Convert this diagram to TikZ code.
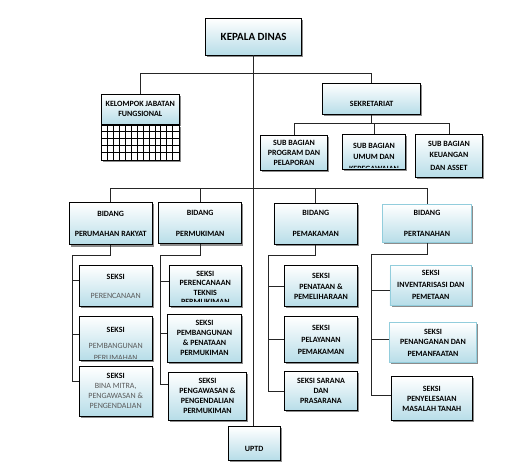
\documentclass[tikz,border=0pt]{standalone}
\usepackage{fontspec}
\setmainfont{Carlito}
\usepackage{xcolor}
\usetikzlibrary{shadows}

\definecolor{boxblue}{RGB}{183,221,232}
\definecolor{paleedge}{RGB}{146,205,220}
\definecolor{txtgray}{RGB}{89,89,89}
\newcommand{\greytext}[1]{{\color{txtgray}\mdseries #1}}

\begin{document}
\begin{tikzpicture}[x=1pt,y=-1pt,
    unit/.style={draw=black, line width=0.9pt, top color=white, bottom color=boxblue,
        drop shadow={shadow xshift=1.6pt, shadow yshift=-1.6pt, fill=black!45, opacity=1},
        align=center, inner sep=0pt, font=\fontsize{8}{10}\selectfont\bfseries},
    pale/.style={unit, draw=paleedge},
    link/.style={draw=black!85, line width=0.8pt},
    gridline/.style={draw=black, line width=0.5pt},
    cut/.style={inner sep=0pt, font=\fontsize{8}{10}\selectfont\bfseries}]
        \path[use as bounding box, fill=white] (0,0) rectangle (527,470);

        % Head and staff
        \node[unit, minimum width=96pt, minimum height=36.7pt, font=\fontsize{11}{13}\selectfont\bfseries] (kepala) at (253.7,36.7) {KEPALA DINAS};
        \node[unit, minimum width=77.3pt, minimum height=30pt] (kelompok) at (140.3,109.3) {KELOMPOK JABATAN\\FUNGSIONAL};
        \node[draw=black, line width=0.9pt, fill=white, inner sep=0pt, minimum width=77.3pt, minimum height=35pt, anchor=north,
            drop shadow={shadow xshift=1.6pt, shadow yshift=-1.6pt, fill=black!45, opacity=1}] (kelompokgrid) at (kelompok.south) {};
        \foreach \i in {1,...,12}
            \draw[gridline] ([xshift=\i*5.95pt]kelompokgrid.north west) -- ([xshift=\i*5.95pt]kelompokgrid.south west);
        \foreach \j in {1,...,4}
            \draw[gridline] ([yshift=-\j*7pt]kelompokgrid.north west) -- ([yshift=-\j*7pt]kelompokgrid.north east);

        % Secretariat
        \node[unit, minimum width=98pt, minimum height=31pt] (sekretariat) at (371.7,98.8) {\mbox{}\\[6pt]SEKRETARIAT};
        \node[unit, minimum width=66.6pt, minimum height=35.4pt] (subprogram) at (294,153) {SUB BAGIAN\\PROGRAM DAN\\PELAPORAN};
        \node[unit, minimum width=62.6pt, minimum height=35pt] (subumum) at (374,151.8) {SUB BAGIAN\\[1pt]UMUM DAN};
        \node[unit, minimum width=66.6pt, minimum height=43pt] (subkeuangan) at (449,155.8) {SUB BAGIAN\\[1.5pt]KEUANGAN\\[2.5pt]DAN ASSET};

        % Bidang
        \node[unit, minimum width=83.3pt, minimum height=42.3pt] (perumahan) at (110.7,223.8) {BIDANG\\[10.5pt]PERUMAHAN RAKYAT};
        \node[unit, minimum width=83pt, minimum height=41.3pt] (permukiman) at (200.2,223.3) {BIDANG\\[10.5pt]PERMUKIMAN};
        \node[unit, minimum width=83.7pt, minimum height=41pt] (pemakaman) at (315.8,223.8) {BIDANG\\[11pt]PEMAKAMAN};
        \node[pale, minimum width=89.4pt, minimum height=38.4pt] (pertanahan) at (427,223.5) {BIDANG\\[11pt]PERTANAHAN};

        % Seksi
        \node[unit, minimum width=73.3pt, minimum height=41pt] (seksiplan) at (115.7,286.2) {SEKSI\\[9pt]\greytext{PERENCANAAN}};
        \node[unit, minimum width=73.3pt, minimum height=44pt] (seksibangun) at (115.7,338) {SEKSI\\[6.7pt]\greytext{PEMBANGUNAN}};
        \node[unit, minimum width=73.3pt, minimum height=49.3pt] (seksibina) at (115.7,391.3) {SEKSI\\\greytext{BINA MITRA,}\\\greytext{PENGAWASAN \&}\\\greytext{PENGENDALIAN}};
        \node[unit, minimum width=72.7pt, minimum height=41pt, font=\fontsize{8}{9.5}\selectfont\bfseries] (seksiteknis) at (205.3,286.2) {SEKSI\\PERENCANAAN\\TEKNIS\\[-3pt]\mbox{}};
        \node[unit, minimum width=74.4pt, minimum height=48pt] (seksitata) at (204.5,338.3) {SEKSI\\PEMBANGUNAN\\\& PENATAAN\\PERMUKIMAN};
        \node[unit, minimum width=78.4pt, minimum height=47.3pt] (seksiawas) at (207.5,396.3) {SEKSI\\PENGAWASAN \&\\PENGENDALIAN\\PERMUKIMAN};
        \node[unit, minimum width=73.4pt, minimum height=41pt] (seksimakam) at (321,286.2) {SEKSI\\[1.5pt]PENATAAN \&\\PEMELIHARAAN};
        \node[unit, minimum width=73.4pt, minimum height=46pt] (seksilayan) at (321,339.7) {SEKSI\\[1.5pt]PELAYANAN\\[2pt]PEMAKAMAN};
        \node[unit, minimum width=73.4pt, minimum height=39pt] (seksisarana) at (321,391.2) {SEKSI SARANA\\DAN\\PRASARANA};
        \node[pale, minimum width=81.7pt, minimum height=40pt] (seksipeta) at (430.8,285) {SEKSI\\[1.5pt]INVENTARISASI DAN\\[2pt]PEMETAAN};
        \node[pale, minimum width=87.4pt, minimum height=40pt] (seksimanfaat) at (433,342.7) {SEKSI\\PENANGANAN DAN\\[1.5pt]PEMANFAATAN};
        \node[unit, minimum width=81.7pt, minimum height=44pt] (seksitanah) at (431.8,398.7) {SEKSI\\PENYELESAIAN\\MASALAH TANAH};
        \node[unit, minimum width=51.7pt, minimum height=33.3pt] (uptd) at (254.2,443.3) {\mbox{}\\[6pt]UPTD};

        % text lines cut off at the box bottom
        \begin{scope}
            \clip (subumum.north west) rectangle ([yshift=2pt]subumum.south east);
            \node[cut] (umumsisa) at (374,169) {KEPEGAWAIAN};
        \end{scope}
        \begin{scope}
            \clip (seksibangun.north west) rectangle ([yshift=1.7pt]seksibangun.south east);
            \node[cut, text=txtgray, font=\fontsize{8}{10}\selectfont] (bangunsisa) at (115.7,357.5) {PERUMAHAN};
        \end{scope}
        \begin{scope}
            \clip (seksiteknis.north west) rectangle ([yshift=5.7pt]seksiteknis.south east);
            \node[cut] (teknissisa) at (205.3,302) {PERMUKIMAN};
        \end{scope}

        % Connectors
        \coordinate (staffjoin) at (253.7,73.3);
        \coordinate (subjoin) at (371.7,123.3);
        \coordinate (bidangjoin) at (253.7,188.8);
        \draw[link] (kepala.south) -- (kepala.south |- uptd.north);
        \draw[link] (kelompok.north) |- (staffjoin) -| (sekretariat.north);
        \draw[link] (sekretariat.south) -- (subjoin);
        \draw[link] (subprogram.north) |- (subjoin) -| (subkeuangan.north);
        \draw[link] (subumum.north) -- (subumum.north |- subjoin);
        \draw[link] (perumahan.north) |- (bidangjoin) -| (pertanahan.north);
        \draw[link] (permukiman.north) -- (permukiman.north |- bidangjoin);
        \draw[link] (pemakaman.north) -- (pemakaman.north |- bidangjoin);

        % Column spines
        \coordinate (spine1) at (72.3,255.7);
        \coordinate (spine2) at (160.7,255);
        \coordinate (spine3) at (268.7,255);
        \coordinate (spine4) at (371.7,254.3);
        \draw[link] (perumahan.south) |- (spine1) |- (seksibina.165);
        \draw[link] (spine1 |- seksiplan.171) -- (seksiplan.171);
        \draw[link] (spine1 |- seksibangun.174) -- (seksibangun.174);
        \draw[link] (permukiman.south) |- (spine2) |- (seksiawas.163);
        \draw[link] (spine2 |- seksiteknis.173) -- (seksiteknis.173);
        \draw[link] (spine2 |- seksitata.173) -- (seksitata.173);
        \draw[link] (pemakaman.south) |- (spine3) |- (seksisarana.west);
        \draw[link] (spine3 |- seksimakam.west) -- (seksimakam.west);
        \draw[link] (spine3 |- seksilayan.west) -- (seksilayan.west);
        \draw[link] (pertanahan.south) |- (spine4) |- (seksitanah.175);
        \draw[link] (spine4 |- seksipeta.187) -- (seksipeta.187);
        \draw[link] (spine4 |- seksimanfaat.176) -- (seksimanfaat.176);
    \end{tikzpicture}
\end{document}
